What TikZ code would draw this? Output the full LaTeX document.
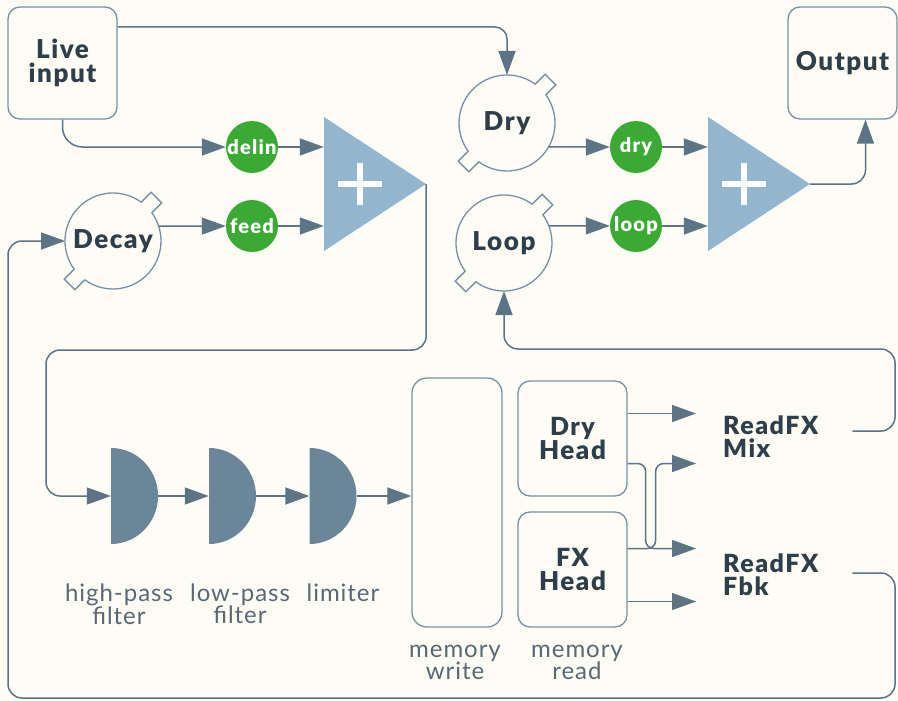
\documentclass[tikz,border=0pt]{standalone}
\usepackage{fontspec}
\setmainfont{Lato}
\newfontfamily\heavyfont{Lato Black}[LetterSpace=6]
\newfontfamily\labelfont{Lato}[LetterSpace=4]
\usepackage{xcolor}
\usepackage{tikz}
\usetikzlibrary{positioning,arrows.meta,calc}
\definecolor{bgc}{HTML}{FDFDF6}
\definecolor{tline}{HTML}{5D7484}
\definecolor{tedge}{HTML}{7890A3}
\definecolor{tdark}{HTML}{2F3F4A}
\definecolor{tgreen}{HTML}{3AAA35}
\definecolor{tblue}{HTML}{93B6CF}
\definecolor{tfilt}{HTML}{6B8698}
\definecolor{tlight}{HTML}{5A6873}

\begin{document}
\begin{tikzpicture}[x=1pt, y=-1pt, text=tdark, font=\heavyfont\fontsize{26}{24}\selectfont,
  box/.style={draw=tedge, line width=1.3pt, rounded corners=12pt, fill=bgc, minimum width=109pt, minimum height=112pt, align=center},
  knob/.style={circle, minimum size=96pt, inner sep=0pt, outer sep=0pt},
  tabline/.style={draw=tedge, line width=1.3pt},
  gain/.style={circle, fill=tgreen, text=white, minimum size=52pt, inner sep=0pt, font=\heavyfont\fontsize{20}{20}\selectfont},
  mixer/.style={minimum width=102pt, minimum height=134pt, inner sep=0pt, path picture={
    \fill[tblue] (path picture bounding box.north west) -- (path picture bounding box.east) -- (path picture bounding box.south west) -- cycle;
    \draw[white, line width=6pt] ([xshift=-37pt]path picture bounding box.center) -- ([xshift=7pt]path picture bounding box.center)
      ([xshift=-15pt,yshift=21pt]path picture bounding box.center) -- ([xshift=-15pt,yshift=-21pt]path picture bounding box.center);}},
  filt/.style={minimum width=47pt, minimum height=96pt, inner sep=0pt, path picture={
    \fill[tfilt] (path picture bounding box.north west) arc[start angle=90, end angle=-90, x radius=47pt, y radius=48pt] -- cycle;}},
  lbl/.style={font=\labelfont\fontsize{24}{22}\selectfont, text=tlight, align=center, inner sep=0pt, anchor=north},
  port/.style={align=left, text width=102pt, inner xsep=27pt, inner ysep=0pt, anchor=west, font=\heavyfont\fontsize{25}{23}\selectfont},
  arr/.style={draw=tline, line width=1.5pt, -{Triangle[length=24pt, width=17pt]}}]
\fill[bgc] (0,0) rectangle (898,701);
\useasboundingbox (0,0) rectangle (898,701);

% sources, sink
\node[box] (live) at (62.5,63) {Live\\input};
\node[box] (outb) at (842.5,63) {Output};

% level knobs: circle with two tabs
\node[knob] (dryv) at (507,123) {Dry};
\node[knob] (loopv) at (504,243) {Loop};
\node[knob] (decayv) at (113,241) {Decay};
\foreach \k in {dryv,loopv,decayv}{
  \draw[tabline] (\k.54) arc[start angle=54, end angle=216, radius=48pt]
    -- ++(225:14pt) -- ++(315:15pt) -- ++(45:14pt)
    arc[start angle=234, end angle=396, radius=48pt]
    -- ++(45:14pt) -- ++(135:15pt) -- ++(225:14pt) -- cycle;
}

\node[gain] (delin) at (252,147) {delin};
\node[gain] (feed) at (252,226) {feed};
\node[gain] (dgain) at (636,147) {dry};
\node[gain] (lgain) at (636,226) {loop};

\node[mixer] (sum1) at (375,184) {};
\node[mixer] (sum2) at (759,184) {};

% feedback path
\node[filt] (hpf) at (134.5,496) {};
\node[filt] (lpf) at (232.5,496) {};
\node[filt] (lim) at (333,496) {};
\node[lbl] (hpft) at (119,584) {high-pass\\filter};
\node[lbl] (lpft) at (240,584) {low-pass\\filter};
\node[lbl] (limt) at (343,584) {limiter};

\node[box, minimum width=90pt, minimum height=249pt, rounded corners=15pt] (mw) at (457,502.5) {};
\node[box, minimum height=115pt] (dh) at (572.5,438.5) {\fontsize{25}{24}\selectfont Dry\\Head};
\node[box, minimum height=115pt] (fh) at (572.5,569.5) {\fontsize{25}{24}\selectfont FX\\Head};
\node[lbl] (mwt) at (455,645) {memory\\write};
\node[lbl] (mrt) at (577,645) {memory\\read};

\node[port] (mix) at (696,437) {ReadFX\\Mix};
\node[port] (fbk) at (696,575) {ReadFX\\Fbk};

\coordinate (dh1) at ([yshift=25pt]dh.east);
\coordinate (dh2) at ([yshift=-25pt]dh.east);
\coordinate (fh1) at ([yshift=21pt]fh.east);
\coordinate (fh2) at ([yshift=-32pt]fh.east);
\coordinate (wrapL) at (46,350);
\coordinate (retR) at (895,349);
\coordinate (loopBR) at (895,698);
\coordinate (loopTL) at (8,241);

\draw[arr, rounded corners=12pt] ([yshift=36pt]live.east) -| (dryv.north);
\draw[arr, rounded corners=20pt] (live.south) |- (delin);
\draw[arr] (delin) -- (delin -| sum1.west);
\draw[arr] (decayv.18) -- (feed);
\draw[arr] (feed) -- (feed -| sum1.west);
\draw[arr] (dryv.330) -- (dgain);
\draw[arr] (dgain) -- (dgain -| sum2.west);
\draw[arr] (loopv.21) -- (lgain);
\draw[arr] (lgain) -- (lgain -| sum2.west);
\draw[arr, rounded corners=14pt] (sum2.east) -| ([xshift=23pt]outb.south);

\draw[arr, rounded corners=14pt] (sum1.east) |- (wrapL) |- (hpf.west);
\draw[arr] (hpf) -- (lpf);
\draw[arr] (lpf) -- (lim);
\draw[arr] (lim) -- (lim -| mw.west);

\draw[arr] (dh1) -- (dh1 -| mix.west);
\draw[arr, rounded corners=8pt] (dh2) -- ++(18,0) |- (fh1 -| fbk.west);
\draw[arr, rounded corners=8pt] (fh1) -- ++(28,0) |- (dh2 -| mix.west);
\draw[arr] (fh2) -- (fh2 -| fbk.west);

\draw[arr, rounded corners=14pt] ([yshift=6pt]mix.east) -| (retR) -| (loopv.south);
\draw[arr, rounded corners=14pt] ([yshift=2pt]fbk.east) -| (loopBR) -| (loopTL) -- (decayv.west);
\end{tikzpicture}
\end{document}
